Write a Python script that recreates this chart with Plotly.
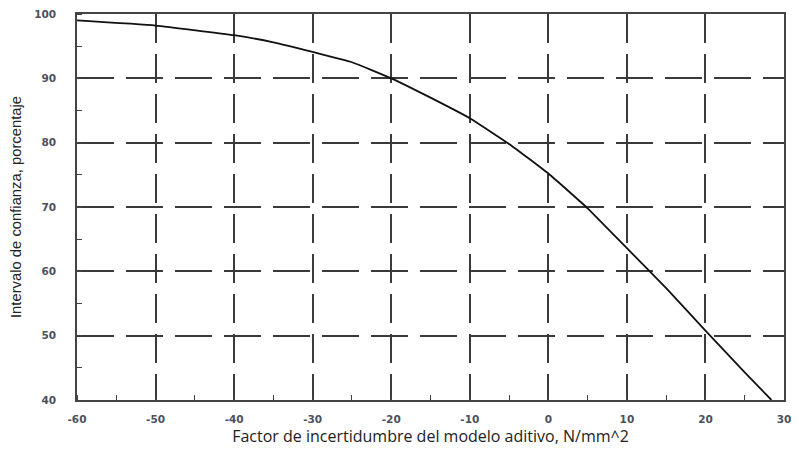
import plotly.graph_objects as go

x_vals = [-60, -50, -40, -35, -30, -25, -20, -15, -10, -5, 0, 5, 10, 15, 20, 25, 28.4]
y_vals = [99.0, 98.2, 96.7, 95.6, 94.1, 92.5, 90.0, 87.0, 83.8, 79.8, 75.2, 69.8, 63.6, 57.4, 50.8, 44.3, 40.0]

x_ticks = [-60, -50, -40, -30, -20, -10, 0, 10, 20, 30]
x_ticktext = ["-60", "-50", "-40", "-30", "-20", "-10", "0", "10", "20", "30"]
y_ticks = [40, 50, 60, 70, 80, 90, 100]
y_ticktext = ["40", "50", "60", "70", "80", "90", "100"]

x_title = "Factor de incertidumbre del modelo aditivo, N/mm^2"
y_title = "Intervalo de confianza, porcentaje"

fig = go.Figure()
fig.add_trace(go.Scatter(x=x_vals, y=y_vals, mode="lines",
                         line=dict(color="#111111", width=1.8, shape="spline", smoothing=0.4),
                         showlegend=False, hoverinfo="skip"))

tickfont = dict(family="DejaVu Sans", size=10.5, color="#4a5060", weight="bold")

fig.update_layout(
    width=799, height=450,
    margin=dict(l=77, r=8, t=14, b=50),
    paper_bgcolor="white", plot_bgcolor="white",
    xaxis=dict(
        range=[-60, 30], tickmode="array", tickvals=x_ticks, ticktext=x_ticktext,
        showgrid=True, gridcolor="#3a3a3a", gridwidth=1.6, griddash="29px,11px",
        showline=True, linecolor="#444444", linewidth=1.5, mirror=True,
        ticks="", zeroline=False,
        minor=dict(dtick=5, tick0=-60, ticks="inside", ticklen=5, tickcolor="#444444", tickwidth=1.3, showgrid=False),
        tickfont=tickfont, ticklabelstandoff=9,
        title=dict(text=x_title, font=dict(family="Open Sans", size=16, color="#222222"), standoff=4),
    ),
    yaxis=dict(
        range=[40, 100], tickmode="array", tickvals=y_ticks, ticktext=y_ticktext,
        showgrid=True, gridcolor="#3a3a3a", gridwidth=1.6, griddash="37px,12px",
        showline=True, linecolor="#444444", linewidth=1.5, mirror=True,
        ticks="", zeroline=False,
        minor=dict(dtick=5, tick0=40, ticks="inside", ticklen=5, tickcolor="#444444", tickwidth=1.3, showgrid=False),
        tickfont=tickfont, ticklabelstandoff=17,
        title=dict(text=y_title, font=dict(family="Liberation Sans Narrow, Arial Narrow, Liberation Sans", size=14.8, color="#222222"), standoff=9),
    ),
)

fig.write_html("out.html")
